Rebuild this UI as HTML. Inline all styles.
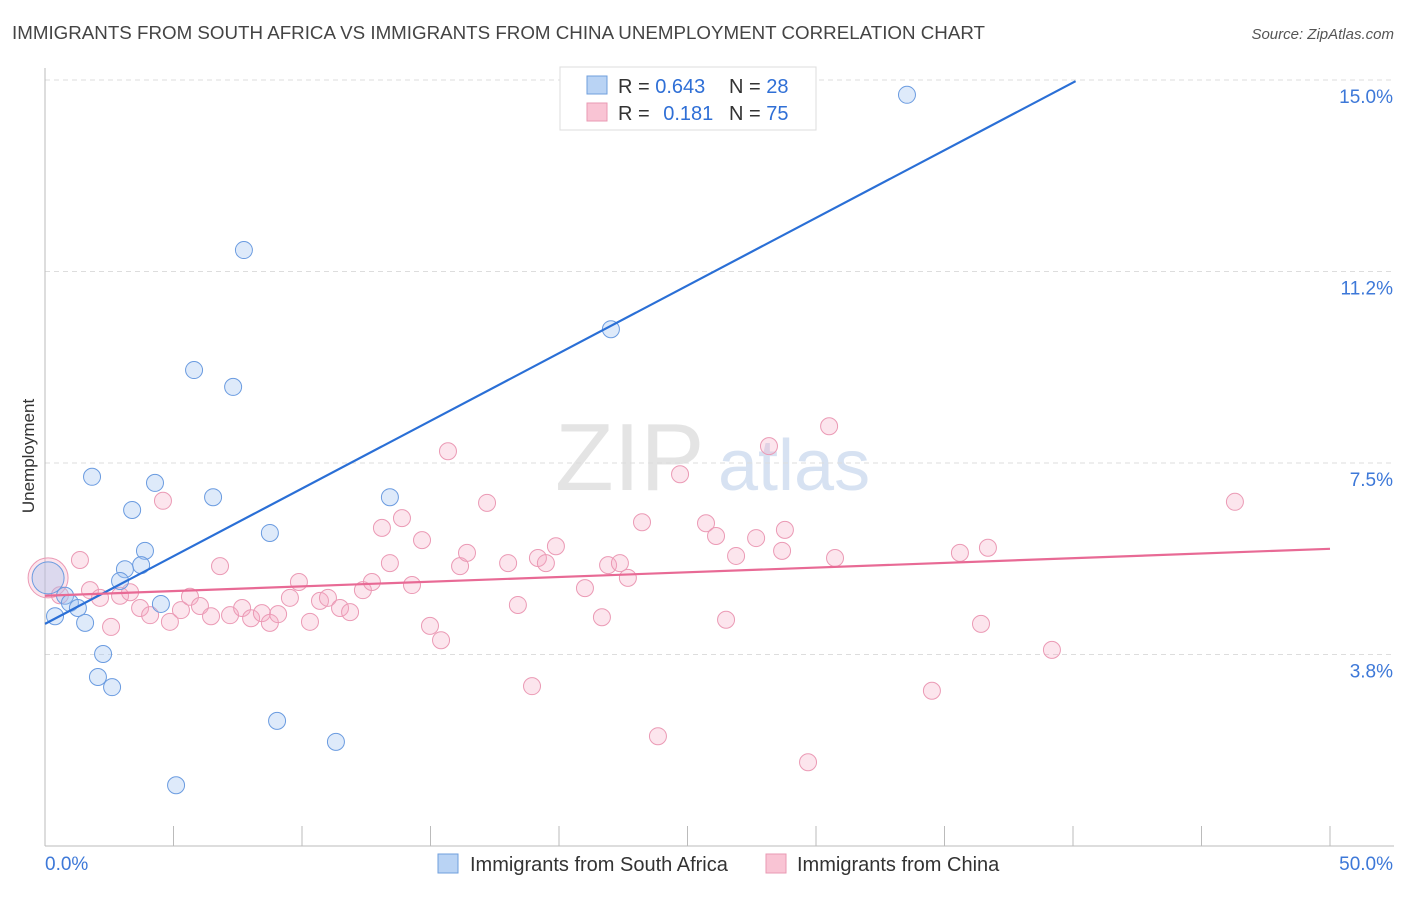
<!DOCTYPE html>
<html><head><meta charset="utf-8"><style>
body{margin:0;background:#fff;font-family:"Liberation Sans",sans-serif}
svg text{font-family:"Liberation Sans",sans-serif}
</style></head><body>
<svg id="chart" width="1406" height="892" viewBox="0 0 1406 892" xmlns="http://www.w3.org/2000/svg">
<text x="12" y="39" font-size="18" fill="#444" textLength="973" lengthAdjust="spacingAndGlyphs">IMMIGRANTS FROM SOUTH AFRICA VS IMMIGRANTS FROM CHINA UNEMPLOYMENT CORRELATION CHART</text>
<text x="1394" y="39" font-size="15" fill="#555" text-anchor="end" font-style="italic">Source: ZipAtlas.com</text>
<g><text x="555" y="490" font-size="96" fill="#e4e4e4" font-family="Liberation Serif">ZIP</text><text x="718" y="490" font-size="72" fill="#d7e2f2">atlas</text></g>
<text transform="translate(34,456) rotate(-90)" font-size="17" fill="#333" text-anchor="middle">Unemployment</text>
<g id="grid"></g><g id="marks"></g>
<g>
<rect x="560" y="67" width="256" height="63" fill="#fff" stroke="#ddd"/>
<rect x="587" y="76" width="20" height="18" fill="#b9d3f4" stroke="#6f9fdd"/>
<rect x="587" y="103" width="20" height="18" fill="#f9c4d4" stroke="#e99ab3"/>
<text x="618" y="93" font-size="20" fill="#333">R = <tspan fill="#2f6fd6">0.643</tspan></text>
<text x="729" y="93" font-size="20" fill="#333">N = <tspan fill="#2f6fd6">28</tspan></text>
<text x="618" y="120" font-size="20" fill="#333">R = <tspan fill="#2f6fd6" dx="8">0.181</tspan></text>
<text x="729" y="120" font-size="20" fill="#333">N = <tspan fill="#2f6fd6">75</tspan></text>
</g>
<g>
<rect x="438" y="854" width="20" height="19" fill="#b9d3f4" stroke="#6f9fdd"/>
<text x="470" y="871" font-size="20" fill="#333">Immigrants from South Africa</text>
<rect x="766" y="854" width="20" height="19" fill="#f9c4d4" stroke="#e99ab3"/>
<text x="797" y="871" font-size="20" fill="#333">Immigrants from China</text>
</g>
</svg>
<script>
const blueX=[33.54,7.74,22.02,5.80,7.32,1.83,4.28,6.54,13.42,3.39,8.75,3.89,3.74,3.11,2.92,0.78,0.97,1.28,0.39,4.51,1.56,2.26,2.06,2.61,9.03,11.32,5.10,0.12];
const blueY=[14.71,11.67,10.12,9.32,8.99,7.23,7.11,6.83,6.83,6.58,6.13,5.78,5.50,5.42,5.19,4.90,4.76,4.66,4.50,4.74,4.37,3.76,3.31,3.11,2.45,2.04,1.19,5.25];
const pinkX=[0.12,1.36,0.58,1.75,2.14,2.57,2.92,3.31,3.70,4.09,4.59,4.86,5.29,5.64,6.03,6.46,6.81,7.20,7.67,8.02,8.44,8.75,9.07,9.53,9.88,10.31,10.70,11.01,11.48,11.87,12.37,12.72,13.11,13.42,13.89,14.28,14.67,14.98,15.41,15.68,16.15,16.42,17.20,18.02,18.40,18.95,19.18,19.49,19.88,21.01,21.67,21.91,22.37,22.68,23.23,23.85,24.71,25.72,26.11,26.50,26.89,27.67,28.17,28.68,28.79,29.69,30.51,30.74,34.51,35.60,36.42,36.69,39.18,46.30];
const pinkY=[5.25,5.60,4.91,5.01,4.86,4.29,4.90,4.97,4.66,4.52,6.76,4.39,4.62,4.88,4.70,4.50,5.48,4.52,4.66,4.46,4.56,4.37,4.54,4.86,5.17,4.39,4.80,4.86,4.66,4.58,5.01,5.17,6.23,5.54,6.42,5.11,5.99,4.31,4.03,7.73,5.48,5.74,6.72,5.54,4.72,3.13,5.64,5.54,5.87,5.05,4.48,5.50,5.54,5.25,6.34,2.15,7.28,6.32,6.07,4.43,5.68,6.03,7.83,5.78,6.19,1.64,8.22,5.64,3.04,5.74,4.35,5.84,3.84,6.74];
const blueTrend=[4.35,0.265,40.1]; // intercept, slope, x end
const pinkTrend=[4.90,0.0184,50];
const yTicks=[3.75,7.5,11.25,15];
const yTickLabels=["3.8%","7.5%","11.2%","15.0%"];
const xTickCount=10;
const X0=45,X1=1330,YB=846,YT=80;
const sx=v=>X0+(v/50)*(X1-X0);
const sy=v=>YB-(v/15)*(YB-YT);
const NS="http://www.w3.org/2000/svg";
const grid=document.getElementById('grid'),marks=document.getElementById('marks');
function mk(p,tag,a){const e=document.createElementNS(NS,tag);for(const k in a)e.setAttribute(k,a[k]);p.appendChild(e);return e;}
yTicks.forEach((t,i)=>{
 const l=mk(grid,'line',{x1:45,x2:1394,y1:sy(t),y2:sy(t),stroke:'#ddd','stroke-dasharray':'5,4'});
 
 
 const tx=mk(grid,'text',{x:1393,y:sy(t)+23,'font-size':19,fill:'#3d78d8','text-anchor':'end'});
 tx.textContent=yTickLabels[i];
 
 
});
const ax=mk(grid,'line',{x1:45,x2:45,y1:68,y2:846,stroke:'#bbb'});


const bx=mk(grid,'line',{x1:45,x2:1394,y1:846,y2:846,stroke:'#bbb'});


for(let i=0;i<=xTickCount;i++){
 const t=mk(grid,'line',{x1:sx(i*5),x2:sx(i*5),y1:826,y2:846,stroke:'#bbb'});
 
 
}
const xl=mk(grid,'text',{x:45,y:870,'font-size':19,fill:'#3d78d8'});xl.textContent='0.0%';


const xr=mk(grid,'text',{x:1393,y:870,'font-size':19,fill:'#3d78d8','text-anchor':'end'});xr.textContent='50.0%';


pinkX.forEach((x,i)=>{
 const c=mk(marks,'circle',{cx:sx(x),cy:sy(pinkY[i]),r:i===0?20:8.5,fill:'rgba(245,170,195,0.3)',stroke:'#eb9ab5','stroke-width':1});
 
 
});
blueX.forEach((x,i)=>{
 const c=mk(marks,'circle',{cx:sx(x),cy:sy(blueY[i]),r:i===blueX.length-1?16:8.5,fill:'rgba(160,196,240,0.35)',stroke:'#6a9be0','stroke-width':1});
 
 
});
const bl=mk(marks,'line',{x1:sx(0),y1:sy(blueTrend[0]),x2:sx(blueTrend[2]),y2:sy(blueTrend[0]+blueTrend[1]*blueTrend[2]),stroke:'#2a6fd6','stroke-width':2.2});


const pl=mk(marks,'line',{x1:sx(0),y1:sy(pinkTrend[0]),x2:sx(pinkTrend[2]),y2:sy(pinkTrend[0]+pinkTrend[1]*pinkTrend[2]),stroke:'#e86a95','stroke-width':2.2});


</script>
</body></html>
